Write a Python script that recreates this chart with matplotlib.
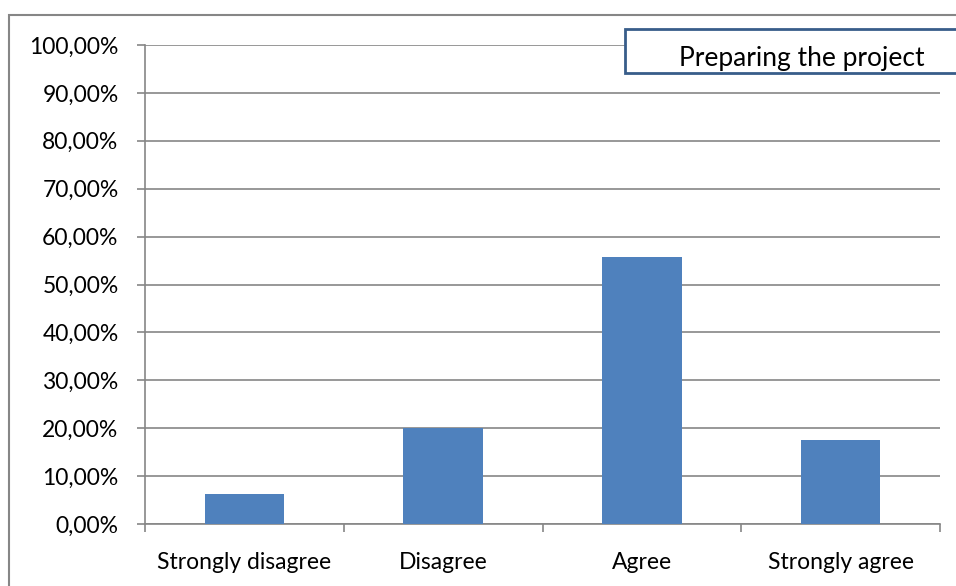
import matplotlib
matplotlib.use('Agg')
import matplotlib.pyplot as plt
from matplotlib.patches import Rectangle
from matplotlib.ticker import FuncFormatter, FixedLocator, NullFormatter

categories = ['Strongly disagree', 'Disagree', 'Agree', 'Strongly agree']
shares = [6.25, 20.0, 55.8, 17.5]
yticks = [0, 10, 20, 30, 40, 50, 60, 70, 80, 90, 100]
title = 'Preparing the project'

plt.rcParams['font.family'] = ['Lato', 'DejaVu Sans']

W, H = 956, 586
fig = plt.figure(figsize=(W / 100, H / 100), dpi=100)

# chart area border (runs off the right and bottom edges)
fig.patches.append(Rectangle((9 / W, -0.1), 1.1, 1 - 15 / H + 0.1, transform=fig.transFigure,
                             fill=False, edgecolor='#868686', linewidth=1.5))

ax = fig.add_axes([145 / W, (H - 524) / H, (940 - 145) / W, (524 - 45) / H])
x = list(range(len(categories)))
ax.bar(x, shares, width=0.4, color='#4f81bd', zorder=3)

ax.set_xlim(-0.5, 3.5)
ax.set_ylim(0, 100)
ax.set_yticks(yticks)
ax.yaxis.set_major_formatter(FuncFormatter(lambda v, p: ('%.2f%%' % v).replace('.', ',')))
ax.grid(axis='y', color='#868686', linewidth=1.2, zorder=0)

ax.xaxis.set_major_locator(FixedLocator([-0.5, 0.5, 1.5, 2.5, 3.5]))
ax.xaxis.set_major_formatter(NullFormatter())
ax.xaxis.set_minor_locator(FixedLocator(x))
ax.xaxis.set_minor_formatter(FuncFormatter(lambda v, p: categories[int(round(v))]))
ax.tick_params(axis='x', which='minor', length=0, pad=20, labelsize=16.5)
ax.tick_params(axis='x', which='major', length=6, width=1.2, color='#868686')
ax.tick_params(axis='y', length=6, width=1.2, color='#868686', labelsize=16.5, pad=13)

for s in ['top', 'right']:
    ax.spines[s].set_visible(False)
for s in ['left', 'bottom']:
    ax.spines[s].set_color('#868686')
    ax.spines[s].set_linewidth(1.2)

# title box (also cut by the right edge)
fig.patches.append(Rectangle((625 / W, 1 - 73 / H), 0.5, 44 / H, transform=fig.transFigure,
                             facecolor='white', edgecolor='#385d8a', linewidth=2, zorder=5))
fig.text(802 / W, 1 - 66 / H, title, ha='center', va='baseline', fontsize=19, zorder=6)

fig.savefig('out.png', dpi=100)
